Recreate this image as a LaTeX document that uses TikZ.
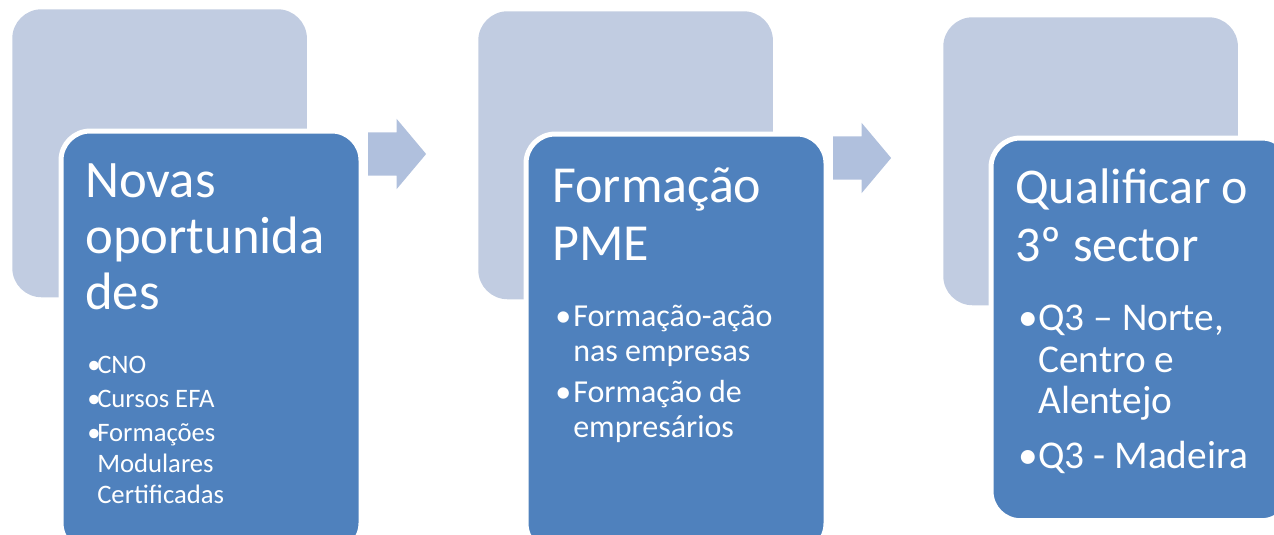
\documentclass[tikz,border=0pt]{standalone}
\usepackage{fontspec}
\setmainfont{Carlito}
\usetikzlibrary{shapes.arrows}
\definecolor{backblue}{RGB}{193,204,225}
\definecolor{frontblue}{RGB}{79,129,189}
\definecolor{arrowblue}{RGB}{176,192,221}
\newcommand{\listbullet}[1]{\makebox[#1][l]{\textbullet}}
\begin{document}
\begin{tikzpicture}[x=0.75pt,y=0.75pt,yscale=-1,xscale=1,
    backbox/.style={fill=backblue,rounded corners=22pt,anchor=north west,inner sep=0pt,minimum width=221pt,minimum height=216pt},
    frontbox/.style={fill=frontblue,draw=white,line width=3.75pt,rounded corners=22pt,anchor=north west,inner sep=0pt,minimum width=225pt},
    flowarrow/.style={fill=arrowblue,single arrow,inner xsep=0pt,inner ysep=16.1pt,minimum height=43.5pt,single arrow head extend=10.1pt,single arrow tip angle=100},
    titletext/.style={text=white,anchor=base west,align=left,inner sep=0pt},
    listtext/.style={text=white,anchor=base west,align=left,inner sep=0pt}]
        \useasboundingbox (0,0) rectangle (1274,535);
        \clip (0,0) rectangle (1274,535);
        %Shape: Back boxes
        \node [backbox] (back1) at (12,9) {};
        \node [backbox] (back2) at (478,11) {};
        \node [backbox] (back3) at (943,17) {};
        %Shape: Block arrows
        \node [flowarrow] (arrow1) at (388,154) {};
        \node [flowarrow] (arrow2) at (853,158) {};
        %Shape: Front boxes
        \node [frontbox,minimum height=316pt] (front1) at (58.5,128.5) {};
        \node [frontbox,minimum height=314pt] (front2) at (523.5,131.5) {};
        \node [frontbox,minimum height=287pt] (front3) at (988.5,135.5) {};
        % Text Node
        \node [titletext,font=\fontsize{39.5}{42}\selectfont] (title1) at (85,309) {Novas\\oportunida\\des};
        % Text Node
        \node [titletext,font=\fontsize{39}{43}\selectfont] (title2) at (552,260) {Formação\\PME};
        % Text Node
        \node [titletext,font=\fontsize{37.5}{43}\selectfont] (title3) at (1015,261) {Qualificar o\\3º sector};
        % Text Node
        \node [listtext,font=\fontsize{20}{23.25}\selectfont] (list1) at (87,503) {\listbullet{7.5pt}CNO\\[2pt]
            \listbullet{7.5pt}Cursos EFA\\[2pt]
            \listbullet{7.5pt}Formações\\
            \hspace*{7.5pt}Modulares\\
            \hspace*{7.5pt}Certificadas};
        % Text Node
        \node [listtext,font=\fontsize{24}{26.25}\selectfont] (list2) at (555,437) {\listbullet{13.5pt}Formação-ação\\
            \hspace*{13.5pt}nas empresas\\[4.5pt]
            \listbullet{13.5pt}Formação de\\
            \hspace*{13.5pt}empresários};
        % Text Node
        \node [listtext,font=\fontsize{29.5}{31}\selectfont] (list3) at (1018,468) {\listbullet{15pt}Q3 – Norte,\\
            \hspace*{15pt}Centro e\\
            \hspace*{15pt}Alentejo\\[10pt]
            \listbullet{15pt}Q3 - Madeira};
\end{tikzpicture}
\end{document}
